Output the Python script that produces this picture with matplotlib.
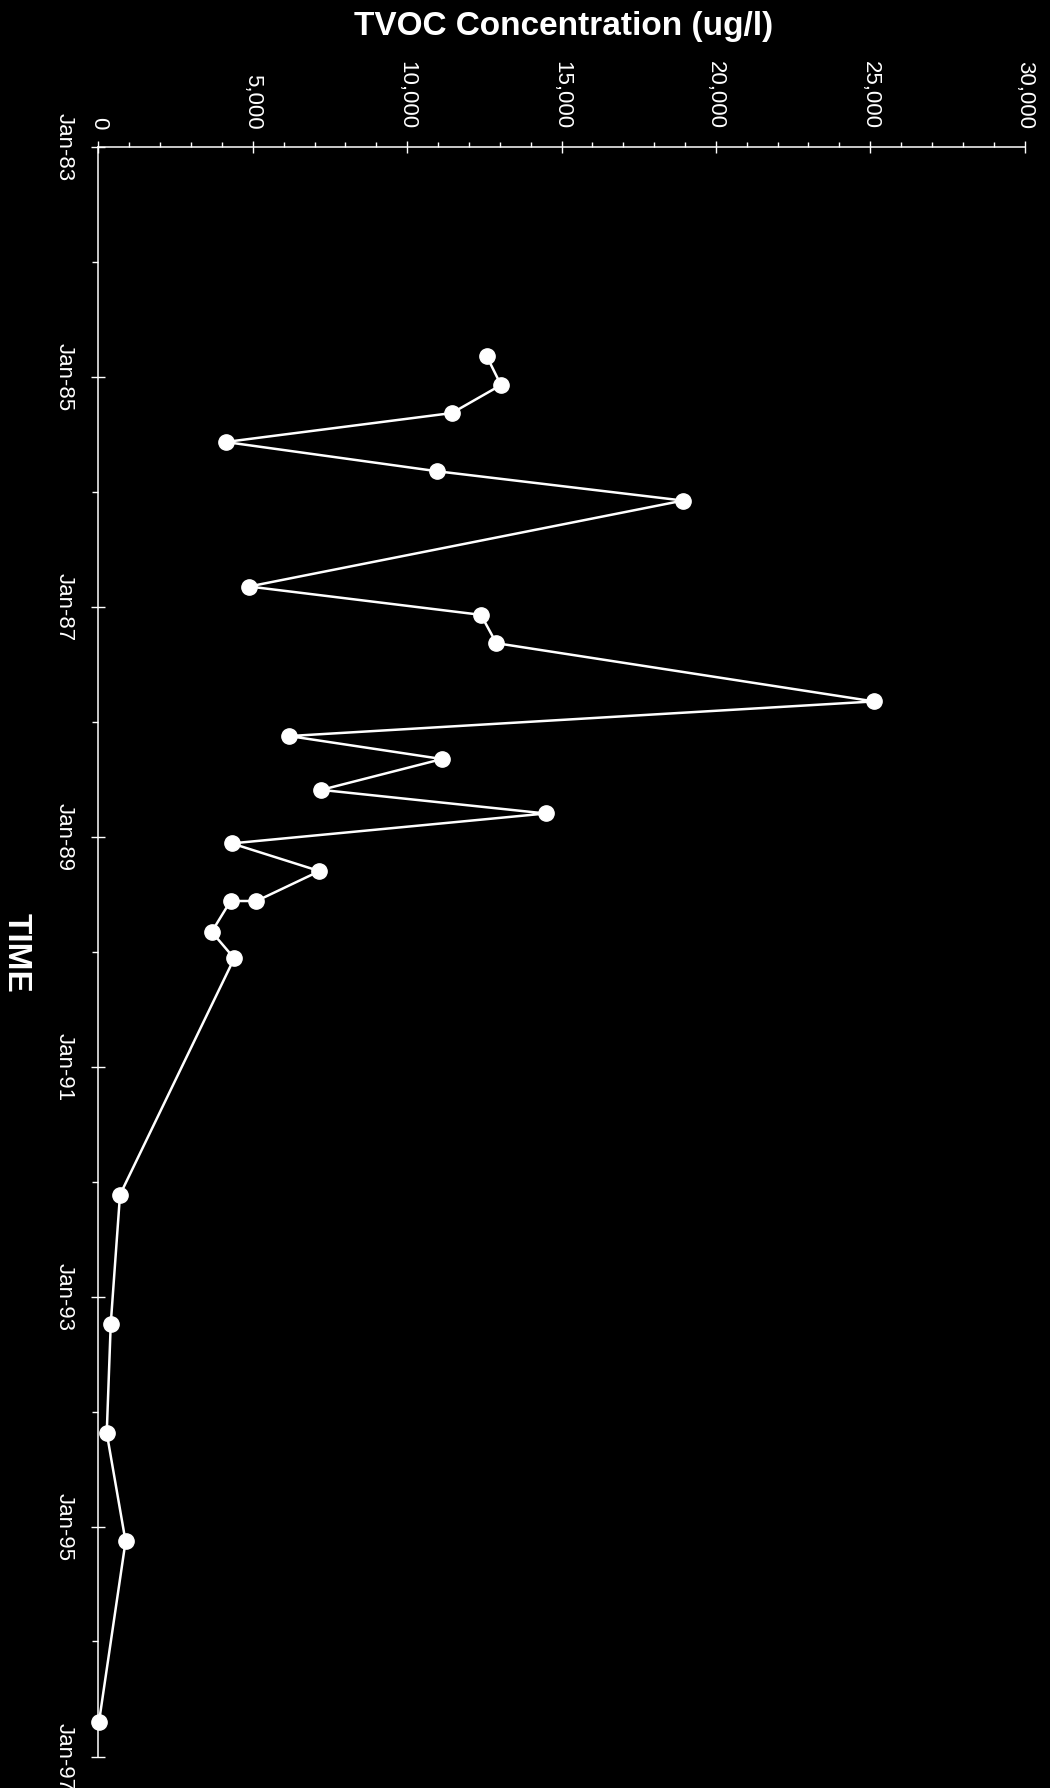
import matplotlib
matplotlib.use('Agg')
import matplotlib.pyplot as plt
from matplotlib.ticker import FuncFormatter, MultipleLocator, FixedLocator
import matplotlib.dates as mdates
import datetime as dt

# ---- data ----
sample_dates = ['1984-10-28', '1985-01-27', '1985-04-26', '1985-07-27', '1985-10-28',
                '1986-01-29', '1986-10-29', '1987-01-27', '1987-04-27', '1987-10-29',
                '1988-02-16', '1988-04-29', '1988-08-05', '1988-10-19', '1989-01-22',
                '1989-04-20', '1989-07-24', '1989-07-24', '1989-10-30', '1990-01-22',
                '1992-02-12', '1993-03-28', '1994-03-10', '1995-02-17', '1996-09-12']
tvoc_ugl = [12580, 13040, 11450, 4120, 10980,
            18940, 4880, 12390, 12890, 25120,
            6180, 11130, 7220, 14490, 4320,
            7160, 5120, 4280, 3670, 4400,
            700, 400, 270, 880, 20]
conc_ticks = [0, 5000, 10000, 15000, 20000, 25000, 30000]
time_tick_years = [1983, 1985, 1987, 1989, 1991, 1993, 1995, 1997]
time_minor_years = list(range(1983, 1998))
x_title = 'TVOC Concentration (ug/l)'
y_title = 'TIME'

plt.rcParams['font.family'] = ['Liberation Sans', 'DejaVu Sans']

W, H = 1050, 1788
fig = plt.figure(figsize=(W / 100, H / 100), dpi=100, facecolor='black')
x0, x1 = 98.4, 1024.6
y0, y1 = 146.7, 1756.7
ax = fig.add_axes([x0 / W, 1 - y1 / H, (x1 - x0) / W, (y1 - y0) / H])
ax.set_facecolor('black')

dates = [dt.datetime.fromisoformat(d) for d in sample_dates]
ax.plot(tvoc_ugl, dates, color='white', lw=1.8, marker='o', ms=11,
        mfc='white', mec='white', clip_on=False, zorder=3)

ax.set_xlim(conc_ticks[0], conc_ticks[-1])
ax.set_ylim(dt.datetime(time_tick_years[-1], 1, 1), dt.datetime(time_tick_years[0], 1, 1))

# spines
for s in ['right', 'bottom']:
    ax.spines[s].set_visible(False)
for s in ['top', 'left']:
    ax.spines[s].set_color('white')
    ax.spines[s].set_linewidth(1.1)

# concentration axis (top)
ax.xaxis.tick_top()
ax.xaxis.set_major_locator(FixedLocator(conc_ticks))
ax.xaxis.set_minor_locator(MultipleLocator(1000))
ax.xaxis.set_major_formatter(FuncFormatter(lambda v, p: f'{int(round(v)):,}'))
ax.tick_params(axis='x', which='major', direction='inout', length=8, width=1,
               colors='white', labelsize=16, labelrotation=-90, pad=8.5,
               top=True, bottom=False, labeltop=True, labelbottom=False)
ax.tick_params(axis='x', which='minor', direction='out', length=3.3, width=1,
               colors='white', top=True, bottom=False)

# time axis (left)
maj = [mdates.date2num(dt.datetime(y, 1, 1)) for y in time_tick_years]
mnr = [mdates.date2num(dt.datetime(y, 1, 1)) for y in time_minor_years]
ax.yaxis.set_major_locator(FixedLocator(maj))
ax.yaxis.set_minor_locator(FixedLocator(mnr))
ax.yaxis.set_major_formatter(mdates.DateFormatter('%b-%y'))
ax.tick_params(axis='y', which='major', direction='inout', length=10, width=1,
               colors='white', labelsize=16, labelrotation=-90, pad=12.0,
               left=True, right=False)
ax.tick_params(axis='y', which='minor', direction='out', length=4.3, width=1,
               colors='white', left=True, right=False)
for lbl in ax.get_yticklabels():
    lbl.set_va('center')

fig.text(564 / W, 1 - 26 / H, x_title, ha='center', va='center', fontsize=24,
         fontweight='bold', color='white')
fig.text(16.5 / W, 1 - 953 / H, y_title, ha='center', va='center', fontsize=24,
         fontweight='bold', color='white', rotation=-90)

fig.savefig('out.png', dpi=100, facecolor='black')
